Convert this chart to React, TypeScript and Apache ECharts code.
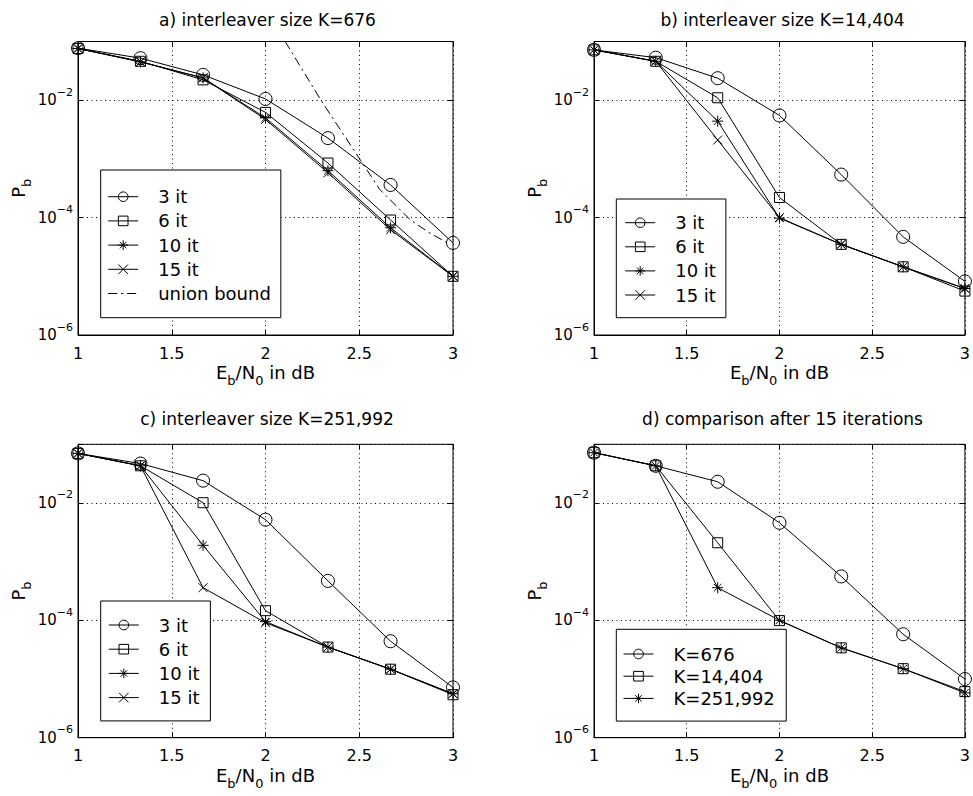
import React, { useEffect, useRef } from 'react';
import * as echarts from 'echarts';

// ---------- data ----------
const EBN0_DB = [1, 1.333, 1.667, 2, 2.333, 2.667, 3];

// a) K=676
const A_IT3 = [0.077, 0.052, 0.027, 0.0105, 0.00226, 3.6e-4, 3.7e-5];
const A_IT6 = [0.076, 0.046, 0.0222, 0.0062, 8.5e-4, 9.1e-5, 1.0e-5];
const A_IT10 = [0.076, 0.045, 0.024, 0.0050, 6.3e-4, 6.7e-5, 1.0e-5];
const A_IT15 = [0.076, 0.045, 0.024, 0.0047, 5.8e-4, 6.2e-5, 1.0e-5];
const UB_EBN0 = [2.105, 2.3, 2.46, 2.61, 2.77, 2.87, 2.985];
const UB_PB = [0.1, 0.0095, 0.0016, 3.0e-4, 9.3e-5, 5.6e-5, 3.5e-5];

// b) K=14,404
const B_IT3 = [0.072, 0.053, 0.0237, 0.0055, 5.4e-4, 4.7e-5, 8.2e-6];
const B_IT6 = [0.072, 0.046, 0.011, 2.2e-4, 3.5e-5, 1.45e-5, 5.6e-6];
const B_IT10 = [0.072, 0.046, 0.0044, 9.8e-5, 3.5e-5, 1.45e-5, 6.2e-6];
const B_IT15 = [0.072, 0.046, 0.0021, 1.0e-4, 3.5e-5, 1.45e-5, 6.2e-6];

// c) K=251,992
const C_IT3 = [0.070, 0.047, 0.024, 0.0052, 4.7e-4, 4.4e-5, 7.2e-6];
const C_IT6 = [0.070, 0.043, 0.0101, 1.46e-4, 3.5e-5, 1.47e-5, 5.4e-6];
const C_IT10 = [0.070, 0.043, 0.0019, 9.5e-5, 3.5e-5, 1.47e-5, 5.6e-6];
const C_IT15 = [0.070, 0.043, 3.6e-4, 9.1e-5, 3.5e-5, 1.47e-5, 5.6e-6];

// d) comparison after 15 iterations
const D_K676 = [0.072, 0.043, 0.023, 0.0046, 5.6e-4, 5.8e-5, 1.0e-5];
const D_K14404 = [0.072, 0.043, 0.0021, 9.9e-5, 3.4e-5, 1.5e-5, 6.1e-6];
const D_K251992 = [0.072, 0.043, 3.6e-4, 1.0e-4, 3.4e-5, 1.5e-5, 5.8e-6];

const TITLES = [
  'a) interleaver size K=676',
  'b) interleaver size K=14,404',
  'c) interleaver size K=251,992',
  'd) comparison after 15 iterations',
];
const IT_NAMES = ['3 it', '6 it', '10 it', '15 it'];
const UB_NAME = 'union bound';
const K_NAMES = ['K=676', 'K=14,404', 'K=251,992'];

const X_MIN = 1;
const X_MAX = 3;
const X_STEP = 0.5;
const Y_MIN = 1e-6;
const Y_MAX = 1e-1;
const Y_STEP_DECADES = 2;

// ---------- style ----------
const FONT = 'DejaVu Sans';
const STAR = 'path://M5,0L5,10M0,5L10,5M1.6,1.6L8.4,8.4M8.4,1.6L1.6,8.4';
const CROSS = 'path://M0,0L10,10M10,0L0,10';
const MARKS: Record<string, { symbol: string; size: number }> = {
  circle: { symbol: 'circle', size: 13 },
  square: { symbol: 'rect', size: 10 },
  star: { symbol: STAR, size: 11 },
  cross: { symbol: CROSS, size: 9 },
};

const GRIDS = [
  { left: 78, top: 41.5, width: 375, height: 293.5 },
  { left: 594, top: 41.5, width: 375, height: 293.5 },
  { left: 78, top: 444.3, width: 375, height: 293.4 },
  { left: 594, top: 444.3, width: 375, height: 293.4 },
];
const TITLE_POS = [
  { x: 267.5, y: 11 },
  { x: 782.5, y: 11 },
  { x: 267, y: 410 },
  { x: 782.5, y: 410 },
];

function mkLine(name: string, xs: number[], ys: number[], gi: number, mark: string | null, dash?: number[]) {
  const m = mark ? MARKS[mark] : null;
  return {
    type: 'line',
    name,
    xAxisIndex: gi * 2,
    yAxisIndex: gi * 2,
    data: xs.map((x, i) => [x, ys[i]]),
    symbol: m ? m.symbol : 'none',
    symbolSize: m ? m.size : 0,
    showSymbol: !!m,
    itemStyle: {
      color: 'rgba(0,0,0,0)',
      borderColor: m ? '#000' : 'rgba(0,0,0,0)',
      borderWidth: m ? 1 : 0,
    },
    lineStyle: { color: '#000', width: 1, type: dash ? dash : 'solid' },
    emphasis: { disabled: true },
    silent: true,
    clip: true,
  };
}

const SUB_RICH = {
  m: { fontSize: 18, fontFamily: FONT, color: '#000' },
  s: { fontSize: 13, fontFamily: FONT, color: '#000', padding: [16, 0, 0, 0] },
};

function mkAxes(gi: number) {
  const tickStyle = { color: '#000', width: 1 };
  const grid = { type: [1, 3.5], color: '#000', width: 1 };
  const xMain = {
    type: 'value',
    gridIndex: gi,
    min: X_MIN,
    max: X_MAX,
    interval: X_STEP,
    position: 'bottom',
    axisLine: { show: true, lineStyle: tickStyle },
    axisTick: { show: true, inside: true, length: 5, lineStyle: tickStyle },
    axisLabel: { margin: 10, fontSize: 16, color: '#000', fontFamily: FONT },
    splitLine: { show: true, lineStyle: grid },
    name: '{m|E}{s|b}{m|/N}{s|0}{m| in dB}',
    nameLocation: 'middle',
    nameGap: 23,
    nameTextStyle: { color: '#000', fontFamily: FONT, fontSize: 18, rich: SUB_RICH },
  };
  const xTop = {
    type: 'value',
    gridIndex: gi,
    min: X_MIN,
    max: X_MAX,
    interval: X_STEP,
    position: 'top',
    axisLine: { show: false },
    axisTick: { show: true, inside: true, length: 5, lineStyle: tickStyle },
    axisLabel: { show: false },
    splitLine: { show: false },
  };
  const yMain = {
    type: 'log',
    logBase: 10,
    gridIndex: gi,
    min: Y_MIN,
    max: Y_MAX,
    interval: Y_STEP_DECADES,
    position: 'left',
    axisLine: { show: true, lineStyle: tickStyle },
    axisTick: { show: true, inside: true, length: 5, lineStyle: tickStyle },
    axisLabel: {
      margin: 5,
      color: '#000',
      fontFamily: FONT,
      formatter: (v: number) => {
        const e = Math.round(Math.log10(v));
        if (e % 2 !== 0) return '';
        return '{b|10}{s|\u2212' + -e + '}';
      },
      rich: {
        b: { fontSize: 15, fontFamily: FONT, color: '#000' },
        s: { fontSize: 11, fontFamily: FONT, color: '#000', padding: [0, 0, 16, 0] },
      },
    },
    splitLine: { show: true, lineStyle: grid },
    name: '{m|P}{s|b}',
    nameLocation: 'middle',
    nameGap: 45,
    nameTextStyle: { color: '#000', fontFamily: FONT, fontSize: 18, rich: SUB_RICH },
  };
  const yRight = {
    type: 'log',
    logBase: 10,
    gridIndex: gi,
    min: Y_MIN,
    max: Y_MAX,
    interval: Y_STEP_DECADES,
    position: 'right',
    axisLine: { show: false },
    axisTick: { show: true, inside: true, length: 5, lineStyle: tickStyle },
    axisLabel: { show: false },
    splitLine: { show: false },
  };
  return { x: [xMain, xTop], y: [yMain, yRight] };
}

function mkLegend(names: string[], left: number, top: number, pad: number[], gap: number) {
  return {
    orient: 'vertical',
    left,
    top,
    padding: pad,
    itemGap: gap,
    itemWidth: 30,
    itemHeight: 12,
    data: names,
    selectedMode: false,
    borderColor: '#000',
    borderWidth: 1,
    borderRadius: 0,
    backgroundColor: '#fff',
    itemStyle: { borderWidth: 1 },
    lineStyle: { width: 1 },
    textStyle: { fontSize: 18, color: '#000', fontFamily: FONT, padding: [0, 0, 0, 15] },
  };
}

export default function App() {
  const ref = useRef<HTMLDivElement>(null);
  useEffect(() => {
    if (!ref.current) return;
    const chart = echarts.init(ref.current, undefined, { renderer: 'svg' });

    const xAxis: any[] = [];
    const yAxis: any[] = [];
    for (let gi = 0; gi < 4; gi++) {
      const a = mkAxes(gi);
      xAxis.push(...a.x);
      yAxis.push(...a.y);
    }

    const itMarks = ['circle', 'square', 'star', 'cross'];
    const series: any[] = [];
    [A_IT3, A_IT6, A_IT10, A_IT15].forEach((d, i) => series.push(mkLine(IT_NAMES[i], EBN0_DB, d, 0, itMarks[i])));
    series.push(mkLine(UB_NAME, UB_EBN0, UB_PB, 0, null, [9, 4, 2, 4]));
    [B_IT3, B_IT6, B_IT10, B_IT15].forEach((d, i) => series.push(mkLine(IT_NAMES[i], EBN0_DB, d, 1, itMarks[i])));
    [C_IT3, C_IT6, C_IT10, C_IT15].forEach((d, i) => series.push(mkLine(IT_NAMES[i], EBN0_DB, d, 2, itMarks[i])));
    [D_K676, D_K14404, D_K251992].forEach((d, i) => series.push(mkLine(K_NAMES[i], EBN0_DB, d, 3, itMarks[i])));

    const option: any = {
      animation: false,
      backgroundColor: '#fff',
      textStyle: { fontFamily: FONT },
      title: TITLES.map((t, i) => ({
        text: t,
        left: TITLE_POS[i].x,
        top: TITLE_POS[i].y,
        textAlign: 'center',
        padding: 0,
        textStyle: { fontSize: 17, fontWeight: 'normal', color: '#000', fontFamily: FONT },
      })),
      grid: GRIDS.map((g) => ({
        ...g,
        show: true,
        borderColor: '#000',
        borderWidth: 1,
        backgroundColor: 'rgba(0,0,0,0)',
        containLabel: false,
      })),
      xAxis,
      yAxis,
      legend: [
        mkLegend([...IT_NAMES, UB_NAME], 100.7, 170, [17.7, 10, 15.2, 7], 6.2),
        mkLegend(IT_NAMES, 616.3, 199, [14.7, 10, 13.7, 8.4], 6.1),
        mkLegend(IT_NAMES, 100.7, 601, [15, 10.9, 14.3, 7.6], 6.2),
        mkLegend(K_NAMES, 616.3, 629.3, [15.7, 11.4, 13.7, 6.7], 4.2),
      ],
      series,
    };
    chart.setOption(option);
    return () => chart.dispose();
  }, []);
  return (
    <div
      ref={ref}
      style={{ position: 'absolute', left: 0, top: 0, width: 973, height: 796, background: '#fff' }}
    />
  );
}
